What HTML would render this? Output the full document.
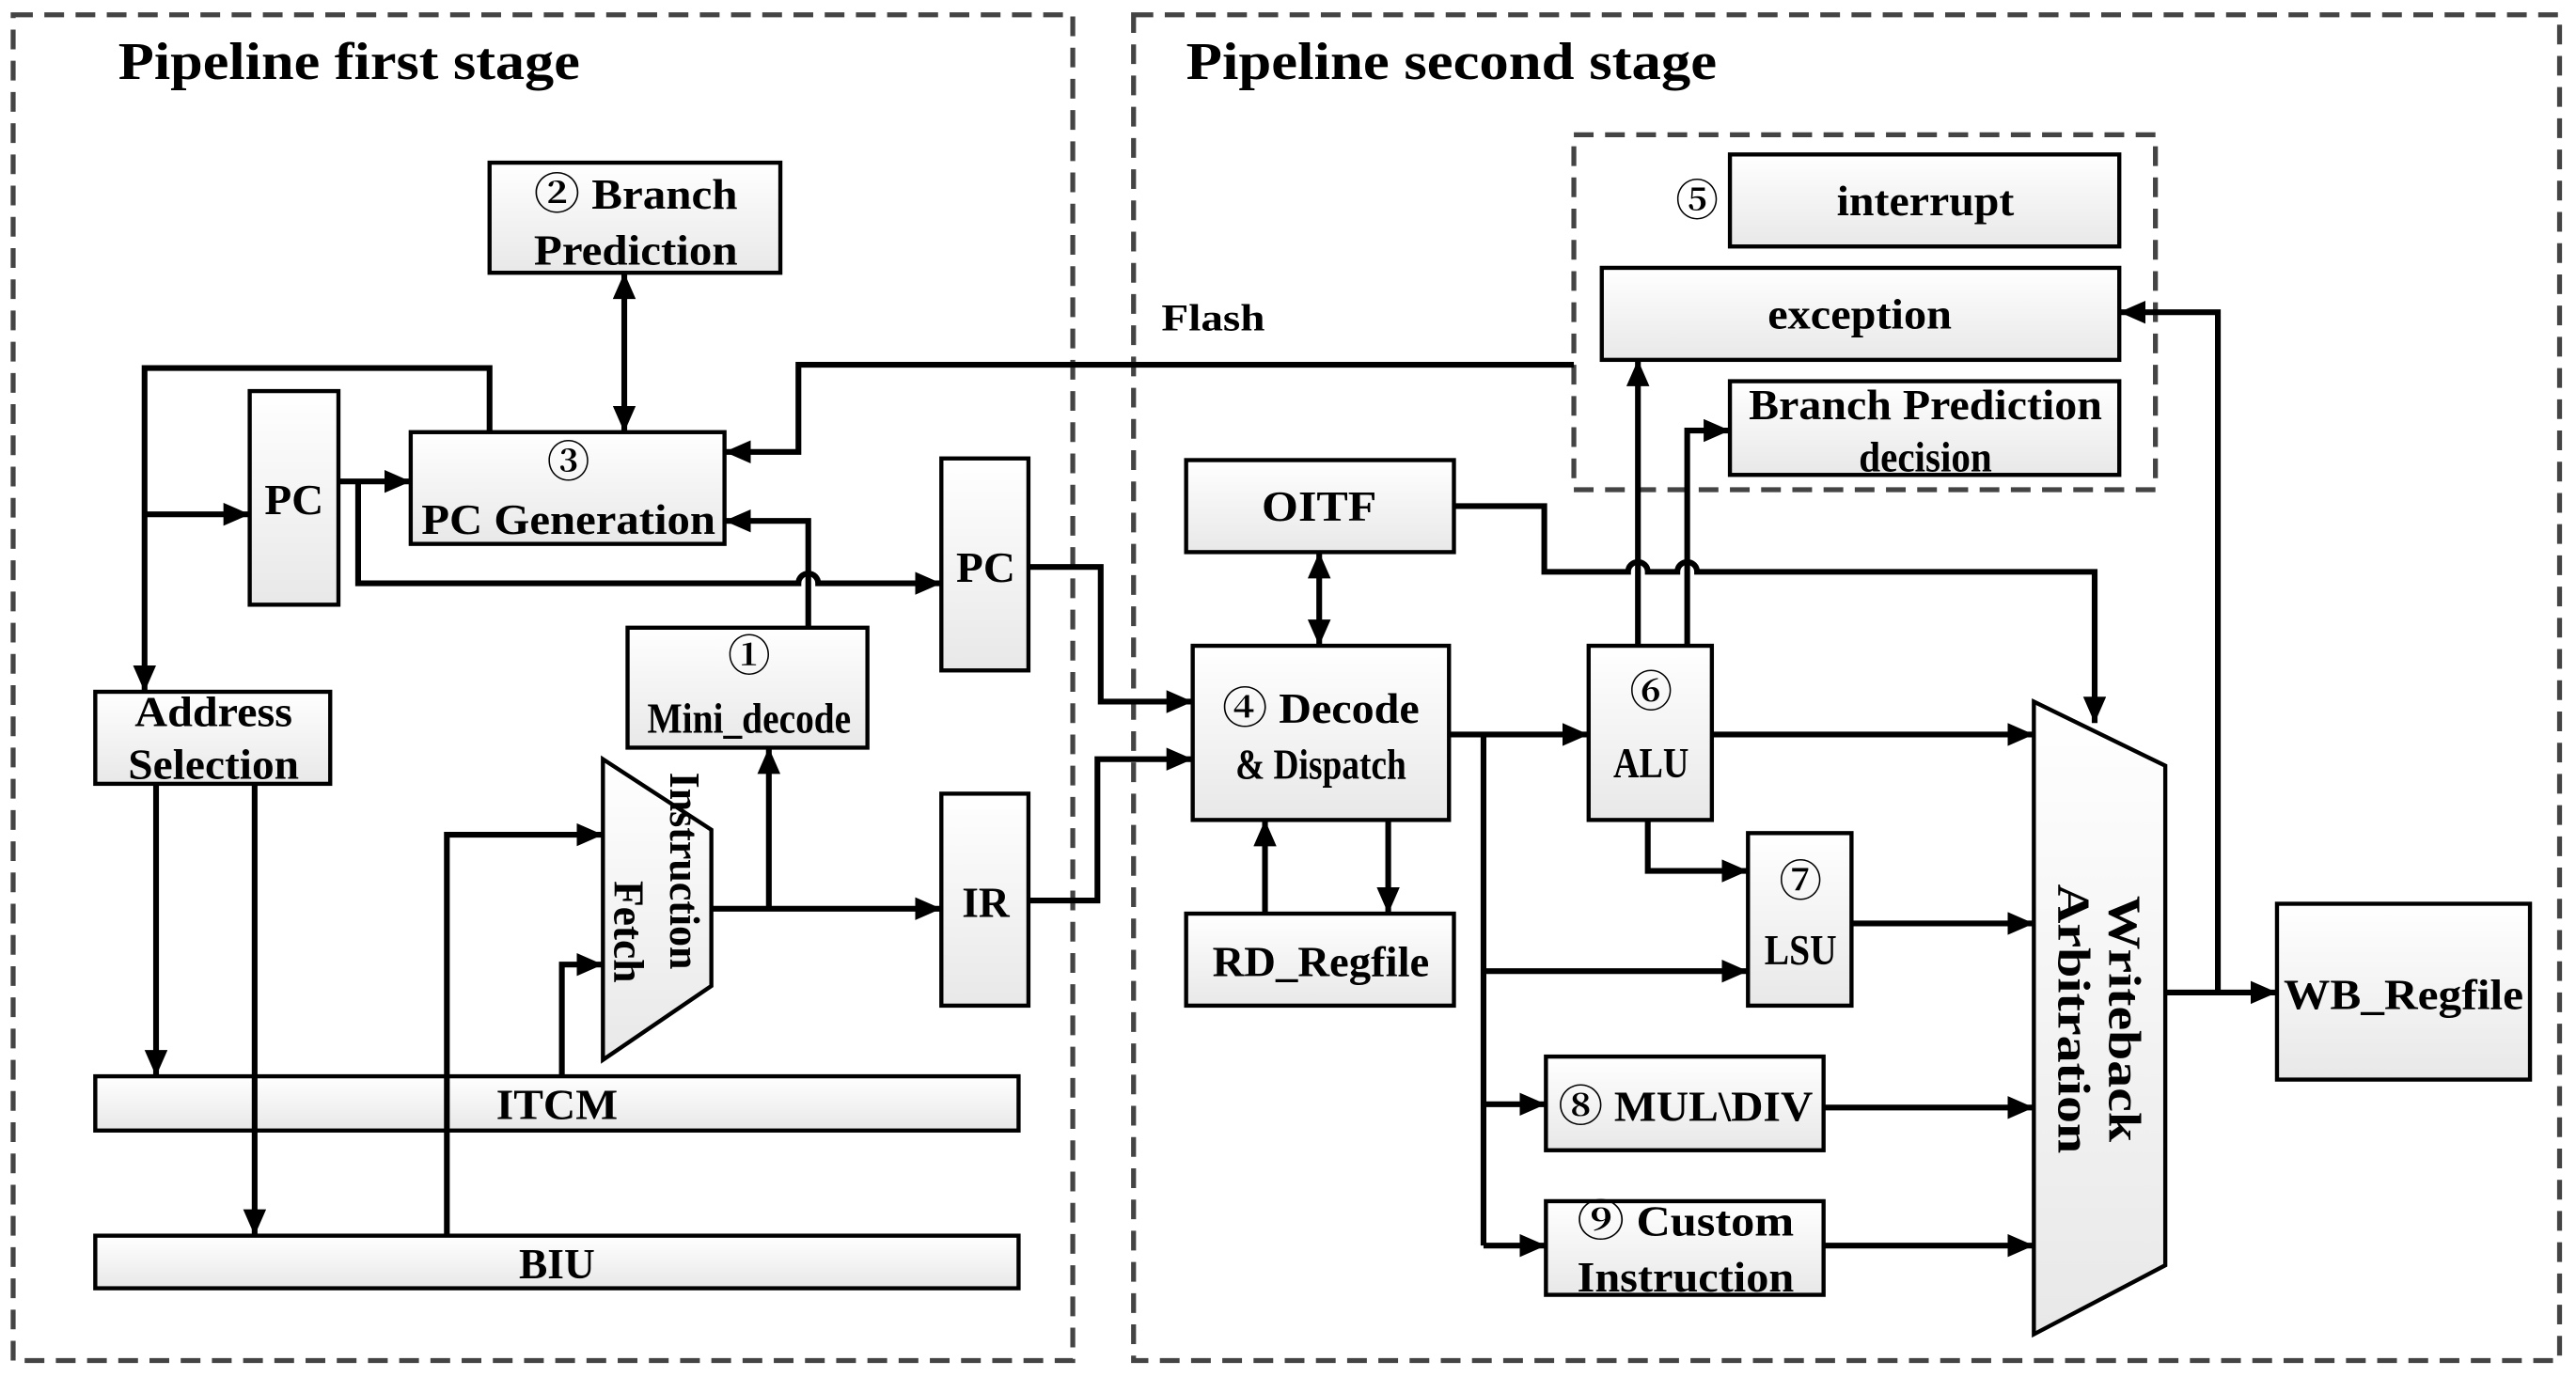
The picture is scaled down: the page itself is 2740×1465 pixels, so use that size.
<!DOCTYPE html>
<html><head><meta charset="utf-8"><style>
html,body{margin:0;padding:0;background:#fff;}
svg{display:block;}
text{font-family:"Liberation Serif","Noto Serif CJK SC",serif;font-weight:bold;fill:#000;}
</style></head><body>
<svg width="2740" height="1465" viewBox="0 0 1568 838" preserveAspectRatio="none" xmlns="http://www.w3.org/2000/svg">
<defs>
<linearGradient id="g" x1="0" y1="0" x2="0" y2="1"><stop offset="0" stop-color="#ffffff"/><stop offset="1" stop-color="#e8e8e8"/></linearGradient>
<marker id="a" markerUnits="userSpaceOnUse" markerWidth="18" markerHeight="16" refX="16" refY="7" orient="auto"><path d="M0,0 L16,7 L0,14 Z" fill="#000"/></marker>
<marker id="s" markerUnits="userSpaceOnUse" markerWidth="18" markerHeight="16" refX="0" refY="7" orient="auto"><path d="M16,0 L0,7 L16,14 Z" fill="#000"/></marker>
</defs>
<g fill="none" stroke="#444" stroke-width="3" stroke-dasharray="12,7">
<rect x="8" y="9" width="645" height="819"/>
<rect x="690" y="9" width="868" height="819"/>
<rect x="958" y="82" width="354" height="216"/>
</g>
<text x="72" y="48" font-size="32" textLength="281" lengthAdjust="spacingAndGlyphs">Pipeline first stage</text>
<text x="722" y="48" font-size="32" textLength="323" lengthAdjust="spacingAndGlyphs">Pipeline second stage</text>
<text x="707" y="201" font-size="23" textLength="63" lengthAdjust="spacingAndGlyphs">Flash</text>
<g fill="url(#g)" stroke="#000" stroke-width="2.5">
<rect x="298" y="99" width="177" height="67"/>
<rect x="250" y="263" width="191" height="68"/>
<rect x="152" y="238" width="54" height="130"/>
<rect x="58" y="421" width="143" height="56"/>
<rect x="382" y="382" width="146" height="73"/>
<rect x="573" y="279" width="53" height="129"/>
<rect x="573" y="483" width="53" height="129"/>
<polygon points="367,462 433,505 433,600 367,645"/>
<rect x="58" y="655" width="562" height="33"/>
<rect x="58" y="752" width="562" height="32"/>
<rect x="722" y="280" width="163" height="56"/>
<rect x="726" y="393" width="156" height="106"/>
<rect x="722" y="556" width="163" height="56"/>
<rect x="967" y="393" width="75" height="106"/>
<rect x="1064" y="507" width="63" height="105"/>
<rect x="941" y="643" width="169" height="57"/>
<rect x="941" y="731" width="169" height="57"/>
<rect x="1053" y="94" width="237" height="56"/>
<rect x="975" y="163" width="315" height="56"/>
<rect x="1053" y="232" width="237" height="57"/>
<polygon points="1238,427 1318,466 1318,770 1238,812"/>
<rect x="1386" y="550" width="154" height="107"/>
</g>
<g font-size="26" text-anchor="middle">
<text x="387" y="127" textLength="124" lengthAdjust="spacingAndGlyphs">② Branch</text>
<text x="387" y="161" textLength="124" lengthAdjust="spacingAndGlyphs">Prediction</text>
<text x="346" y="290">③</text>
<text x="346" y="325" textLength="179" lengthAdjust="spacingAndGlyphs">PC Generation</text>
<text x="179" y="313" textLength="36" lengthAdjust="spacingAndGlyphs">PC</text>
<text x="130" y="442" textLength="96" lengthAdjust="spacingAndGlyphs">Address</text>
<text x="130" y="474" textLength="104" lengthAdjust="spacingAndGlyphs">Selection</text>
<text x="456" y="408">①</text>
<text x="456" y="446" textLength="124" lengthAdjust="spacingAndGlyphs">Mini_decode</text>
<text x="600" y="354" textLength="36" lengthAdjust="spacingAndGlyphs">PC</text>
<text x="600" y="558">IR</text>
<text x="339" y="681" textLength="74" lengthAdjust="spacingAndGlyphs">ITCM</text>
<text x="339" y="778">BIU</text>
<text x="803" y="317" textLength="70" lengthAdjust="spacingAndGlyphs">OITF</text>
<text x="804" y="440" textLength="120" lengthAdjust="spacingAndGlyphs">④ Decode</text>
<text x="804" y="474" textLength="104" lengthAdjust="spacingAndGlyphs">&amp; Dispatch</text>
<text x="804" y="594" textLength="132" lengthAdjust="spacingAndGlyphs">RD_Regfile</text>
<text x="1005" y="430">⑥</text>
<text x="1005" y="473" textLength="46" lengthAdjust="spacingAndGlyphs">ALU</text>
<text x="1096" y="545">⑦</text>
<text x="1096" y="587" textLength="44" lengthAdjust="spacingAndGlyphs">LSU</text>
<text x="1026" y="682" textLength="155" lengthAdjust="spacingAndGlyphs">⑧ MUL\DIV</text>
<text x="1026" y="752" textLength="132" lengthAdjust="spacingAndGlyphs">⑨ Custom</text>
<text x="1026" y="786" textLength="132" lengthAdjust="spacingAndGlyphs">Instruction</text>
<text x="1172" y="131" textLength="108" lengthAdjust="spacingAndGlyphs">interrupt</text>
<text x="1033" y="131">⑤</text>
<text x="1132" y="200" textLength="112" lengthAdjust="spacingAndGlyphs">exception</text>
<text x="1172" y="255" textLength="215" lengthAdjust="spacingAndGlyphs">Branch Prediction</text>
<text x="1172" y="287" textLength="81" lengthAdjust="spacingAndGlyphs">decision</text>
<text x="1463" y="614" textLength="146" lengthAdjust="spacingAndGlyphs">WB_Regfile</text>
<text transform="translate(408,530) rotate(90)" textLength="120" lengthAdjust="spacingAndGlyphs">Instruction</text>
<text transform="translate(374,567) rotate(90)">Fetch</text>
<text transform="translate(1284,620) rotate(90)" font-size="28" textLength="150" lengthAdjust="spacingAndGlyphs">Writeback</text>
<text transform="translate(1253,620) rotate(90)" font-size="28" textLength="164" lengthAdjust="spacingAndGlyphs">Arbitration</text>
</g>
<g fill="none" stroke="#000" stroke-width="3.5">
<polyline points="958,222 486,222 486,275 441,275" marker-end="url(#a)"/>
<polyline points="298,263 298,224 88,224 88,421" marker-end="url(#a)"/>
<line x1="88" y1="313" x2="152" y2="313" marker-end="url(#a)"/>
<line x1="206" y1="293" x2="250" y2="293" marker-end="url(#a)"/>
<path d="M218,293 V355 H486 a6,6 0 0 1 12,0 H573" marker-end="url(#a)"/>
<polyline points="492,382 492,317 441,317" marker-end="url(#a)"/>
<line x1="380" y1="166" x2="380" y2="263" marker-start="url(#s)" marker-end="url(#a)"/>
<line x1="433" y1="553" x2="573" y2="553" marker-end="url(#a)"/>
<line x1="468" y1="553" x2="468" y2="455" marker-end="url(#a)"/>
<polyline points="626,345 670,345 670,427 726,427" marker-end="url(#a)"/>
<polyline points="626,548 668,548 668,462 726,462" marker-end="url(#a)"/>
<line x1="95" y1="477" x2="95" y2="655" marker-end="url(#a)"/>
<line x1="155" y1="477" x2="155" y2="752" marker-end="url(#a)"/>
<polyline points="272,752 272,508 367,508" marker-end="url(#a)"/>
<polyline points="342,655 342,587 367,587" marker-end="url(#a)"/>
<line x1="803" y1="336" x2="803" y2="393" marker-start="url(#s)" marker-end="url(#a)"/>
<line x1="845" y1="499" x2="845" y2="556" marker-end="url(#a)"/>
<line x1="770" y1="556" x2="770" y2="499" marker-end="url(#a)"/>
<line x1="882" y1="447" x2="967" y2="447" marker-end="url(#a)"/>
<line x1="903" y1="447" x2="903" y2="758"/>
<line x1="903" y1="591" x2="1064" y2="591" marker-end="url(#a)"/>
<line x1="903" y1="672" x2="941" y2="672" marker-end="url(#a)"/>
<line x1="903" y1="758" x2="941" y2="758" marker-end="url(#a)"/>
<path d="M885,308 H940 V348 H991 a6,6 0 0 1 12,0 H1021 a6,6 0 0 1 12,0 H1275 V440" marker-end="url(#a)"/>
<line x1="997" y1="393" x2="997" y2="219" marker-end="url(#a)"/>
<polyline points="1027,393 1027,262 1053,262" marker-end="url(#a)"/>
<line x1="1042" y1="447" x2="1238" y2="447" marker-end="url(#a)"/>
<polyline points="1003,499 1003,530 1064,530" marker-end="url(#a)"/>
<line x1="1127" y1="562" x2="1238" y2="562" marker-end="url(#a)"/>
<line x1="1110" y1="674" x2="1238" y2="674" marker-end="url(#a)"/>
<line x1="1110" y1="758" x2="1238" y2="758" marker-end="url(#a)"/>
<line x1="1318" y1="604" x2="1386" y2="604" marker-end="url(#a)"/>
<polyline points="1350,604 1350,190 1290,190" marker-end="url(#a)"/>
</g>
</svg>
</body></html>
